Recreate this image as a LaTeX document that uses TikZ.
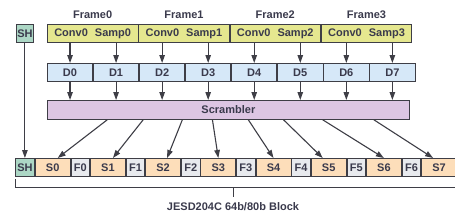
\documentclass[tikz,border=0pt]{standalone}
\usepackage{fontspec}
\setmainfont{Liberation Sans}
\usepackage{tikz}
\usetikzlibrary{positioning, calc, arrows.meta}
\definecolor{FrameColor}{RGB}{229,231,143}
\definecolor{DataColor}{RGB}{214,232,248}
\definecolor{ScrColor}{RGB}{221,198,227}
\definecolor{SampColor}{RGB}{253,222,186}
\definecolor{CtrlColor}{RGB}{232,234,238}
\definecolor{HdrColor}{RGB}{172,215,197}
\definecolor{TextColor}{RGB}{58,58,76}
\definecolor{LineColor}{RGB}{62,62,70}
\tikzset{
    cell/.style={
        rectangle,
        minimum height=18pt,
        inner sep=0pt,
        draw=LineColor,
        line width=0.8pt,
        text=TextColor,
        font=\fontsize{11}{13}\selectfont\bfseries
    },
    framebox/.style={cell, fill=FrameColor, minimum width=90.5pt},
    dat/.style={cell, fill=DataColor, minimum width=45.25pt},
    scr/.style={cell, fill=ScrColor, minimum width=362pt, minimum height=19pt},
    samp/.style={cell, fill=SampColor, minimum width=35pt},
    ctrl/.style={cell, fill=CtrlColor, minimum width=18.6pt},
    hdr/.style={cell, fill=HdrColor, minimum width=18pt},
    lbl/.style={inner sep=0pt, text=TextColor, font=\fontsize{11}{13}\selectfont\bfseries},
    arr/.style={-{Triangle[length=8pt, width=5.5pt]}, draw=LineColor, line width=1.1pt}
}

\begin{document}
\begin{tikzpicture}[x=1pt, y=-1pt]

\useasboundingbox (0,0) rectangle (455,218);

% Frames
\node[framebox, anchor=north west] (f0) at (47,24) {Conv0\hspace{7pt}Samp0};
\node[framebox, right=0pt of f0] (f1) {Conv0\hspace{7pt}Samp1};
\node[framebox, right=0pt of f1] (f2) {Conv0\hspace{7pt}Samp2};
\node[framebox, right=0pt of f2] (f3) {Conv0\hspace{7pt}Samp3};
\node[lbl, above=5pt of f0] (t0) {Frame0};
\node[lbl, above=5pt of f1] (t1) {Frame1};
\node[lbl, above=5pt of f2] (t2) {Frame2};
\node[lbl, above=5pt of f3] (t3) {Frame3};

% Sync header
\node[hdr, minimum width=17pt, anchor=north west] (sh0) at (16,24) {SH};

% Data octets
\node[dat, anchor=north west] (d0) at (47,63) {D0};
\node[dat, right=0pt of d0] (d1) {D1};
\node[dat, right=0pt of d1] (d2) {D2};
\node[dat, right=0pt of d2] (d3) {D3};
\node[dat, right=0pt of d3] (d4) {D4};
\node[dat, right=0pt of d4] (d5) {D5};
\node[dat, right=0pt of d5] (d6) {D6};
\node[dat, right=0pt of d6] (d7) {D7};

% Scrambler
\node[scr, anchor=north west] (scr) at (47,100) {Scrambler};

% Block
\node[hdr, minimum width=19pt, anchor=north west] (sh1) at (15,158) {SH};
\node[samp, right=0pt of sh1] (s0) {S0};
\node[ctrl, right=0pt of s0] (c0) {F0};
\node[samp, right=0pt of c0] (s1) {S1};
\node[ctrl, right=0pt of s1] (c1) {F1};
\node[samp, right=0pt of c1] (s2) {S2};
\node[ctrl, right=0pt of s2] (c2) {F2};
\node[samp, right=0pt of c2] (s3) {S3};
\node[ctrl, right=0pt of s3] (c3) {F3};
\node[samp, right=0pt of c3] (s4) {S4};
\node[ctrl, right=0pt of s4] (c4) {F4};
\node[samp, right=0pt of c4] (s5) {S5};
\node[ctrl, right=0pt of s5] (c5) {F5};
\node[samp, right=0pt of c5] (s6) {S6};
\node[ctrl, right=0pt of s6] (c6) {F6};
\node[samp, right=0pt of c6] (s7) {S7};

% Arrows
\draw[arr] (sh0.south) -- (sh1.north);
\foreach \i in {0,...,7} {
    \draw[arr] (d\i |- f0.south) -- (d\i.north);
    \draw[arr] (d\i.south) -- (d\i |- scr.north);
}
\foreach \i/\f/\dx in {0/0.166/5, 1/0.265/5, 2/0.373/4, 3/0.456/0, 4/0.555/0, 5/0.652/-6, 6/0.760/0, 7/0.901/-6}
    \draw[arr] ($(scr.south west)!\f!(scr.south east)$) -- ($(s\i.north)+(\dx,0)$);

% Bracket
\node[lbl] (blk) at (233,207) {JESD204C 64b/80b Block};
\coordinate (bl) at ($(sh1.south west)+(0,11)$);
\draw[draw=LineColor, line width=0.8pt] ($(sh1.south west)+(0,2)$) -- (bl) -| ($(s7.south east)+(0,2)$);
\draw[draw=LineColor, line width=0.8pt] (blk.north |- bl) -- ++(0,9);

\end{tikzpicture}
\end{document}
